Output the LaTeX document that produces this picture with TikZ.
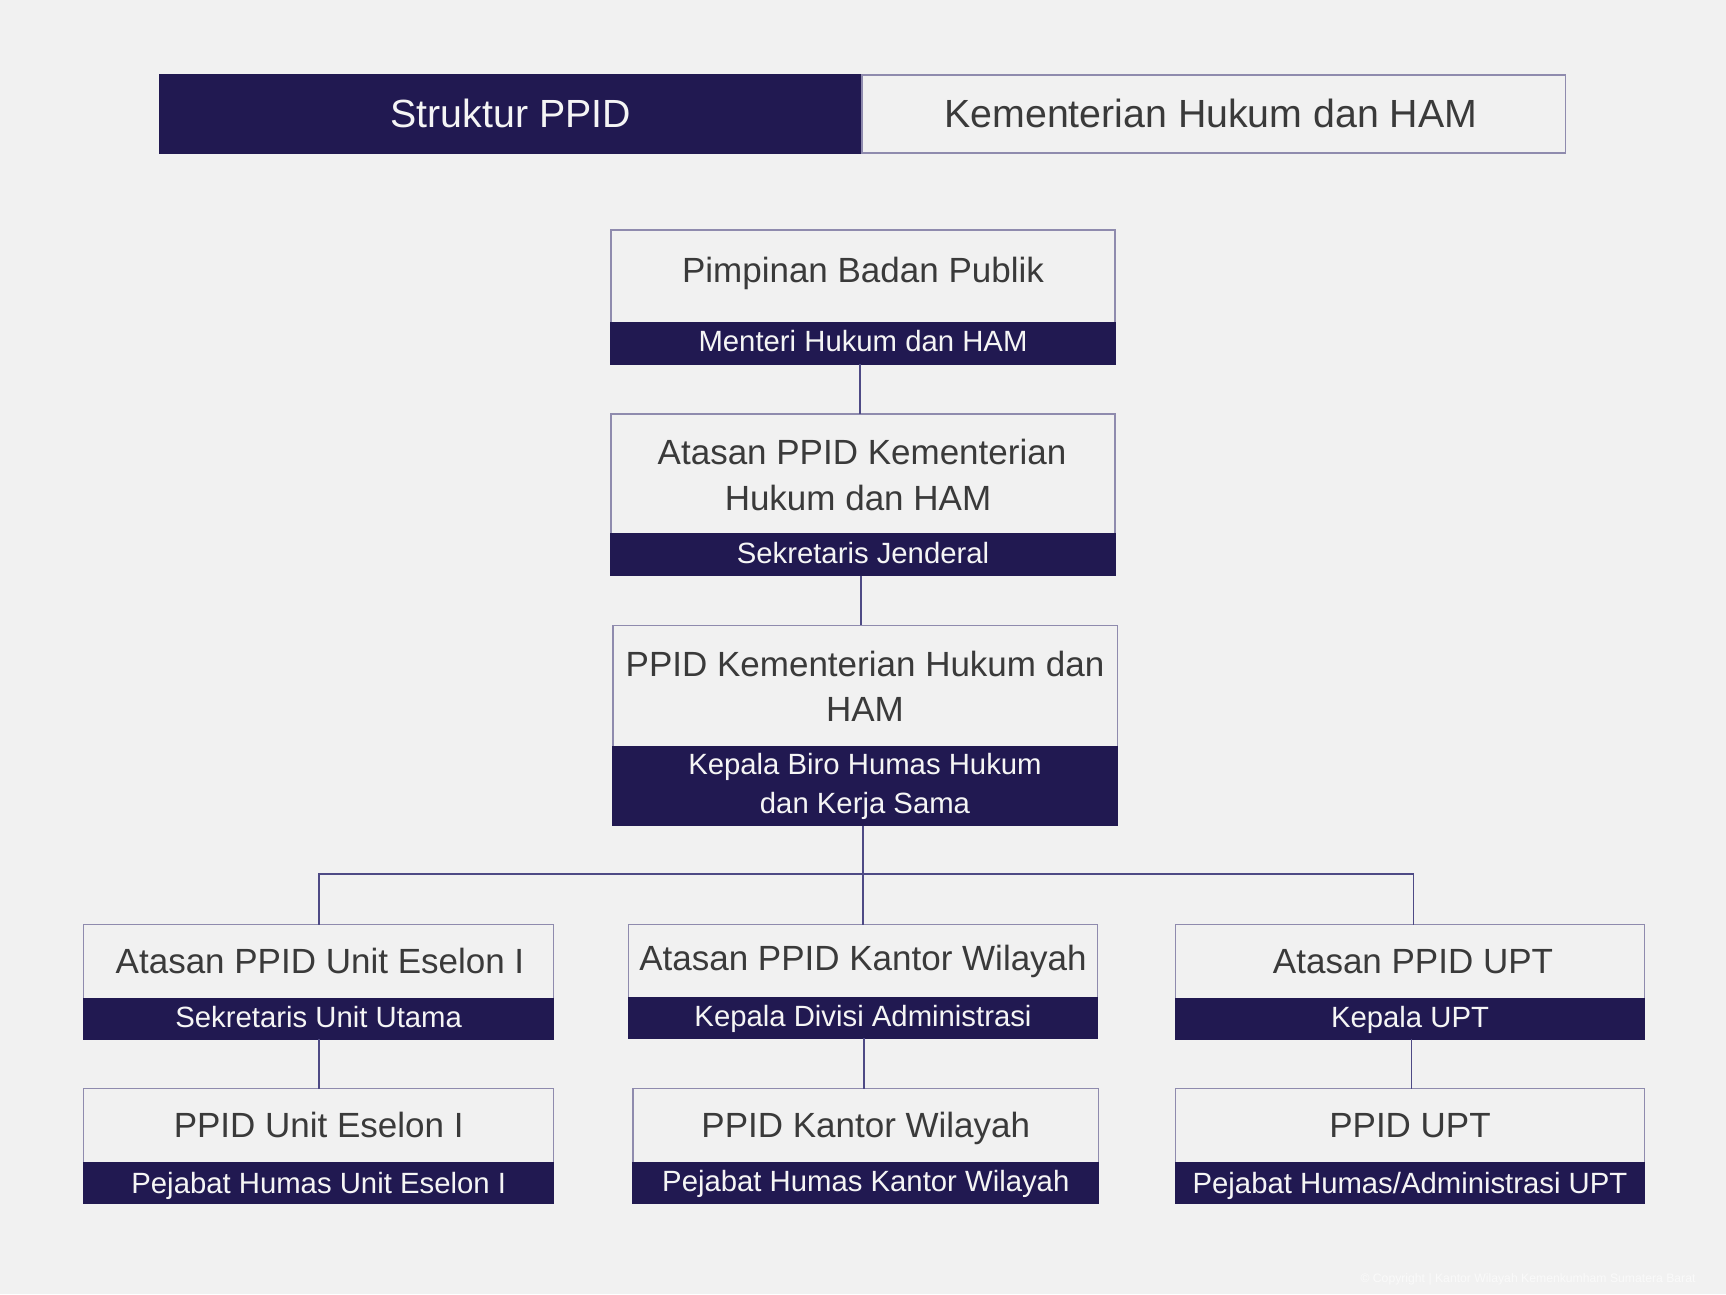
\documentclass[tikz,border=0pt]{standalone}
\usepackage{fontspec}
\setmainfont{Liberation Sans}
\definecolor{navy}{HTML}{211951}
\definecolor{bg}{HTML}{F1F1F1}
\definecolor{edge}{HTML}{8F8BAE}
\definecolor{wirec}{HTML}{4E4A85}
\definecolor{ink}{HTML}{3A3A3A}
\definecolor{paper}{HTML}{F5F5F5}
\definecolor{faint}{HTML}{FAFAFA}
\tikzset{
  frame/.style={draw=edge, line width=1.5pt, fill=bg, inner sep=0pt, outer sep=0pt},
  band/.style={draw=navy, line width=1.5pt, fill=navy, inner sep=0pt, outer sep=0pt},
  maintext/.style={text=ink, font=\fontsize{35}{42}\selectfont, inner sep=0pt, anchor=base},
  subtext/.style={text=paper, font=\fontsize{29.3}{36}\selectfont, inner sep=0pt, anchor=base},
  headtext/.style={font=\fontsize{39.3}{46}\selectfont, inner sep=0pt, anchor=base},
  wire/.style={draw=wirec, line width=1.7pt},
}
\newcommand\orgbox[6]{%
  \node[frame, minimum width={#3-#2}, minimum height={#6-#4}] (#1) at ({(#2+#3)/2},{(#4+#6)/2}) {};
  \node[band, minimum width={#3-#2}, minimum height={#6-#5}] (#1s) at ({(#2+#3)/2},{(#5+#6)/2}) {};
}
\begin{document}
\begin{tikzpicture}[x=1pt,y=-1pt]
\useasboundingbox (0,0) rectangle (1726,1294);
\fill[bg] (0,0) rectangle (1726,1294);

% header
\node[frame, fill=navy, draw=navy, minimum width=702.4, minimum height=78.1] (hl) at (510.8,114) {};
\node[frame, minimum width=703.3, minimum height=78.1] (hr) at (1213.65,114) {};
\node[headtext, text=paper] (hlt) at (510.8,127) {Struktur PPID};
\node[headtext, text=ink] (hrt) at (1210.9,127) {Kementerian Hukum dan HAM};

% boxes
\orgbox{b1}{610.9}{1115.1}{230.1}{322.5}{364.4}
\orgbox{b2}{610.9}{1115.1}{413.9}{533.9}{575.7}
\orgbox{b3}{613.1}{1117.3}{625.3}{746.3}{825.6}
\orgbox{a1}{83.7}{553.7}{924.7}{998.4}{1039.2}
\orgbox{a2}{628.6}{1097.5}{924.7}{997.3}{1038.1}
\orgbox{a3}{1175.7}{1644.6}{924.7}{998.4}{1039.2}
\orgbox{c1}{83.7}{553.7}{1088.7}{1162.4}{1203.2}
\orgbox{c2}{633.0}{1098.6}{1088.7}{1162.4}{1203.2}
\orgbox{c3}{1175.7}{1644.6}{1088.7}{1162.4}{1203.2}

% texts
\node[maintext] (b1t) at (863,282.5) {Pimpinan Badan Publik};
\node[subtext] (b1u) at (863,351.5) {Menteri Hukum dan HAM};
\node[maintext] (b2t1) at (862,464.5) {Atasan PPID Kementerian};
\node[maintext] (b2t2) at (858,510) {Hukum dan HAM};
\node[subtext] (b2u) at (863,563) {Sekretaris Jenderal};
\node[maintext] (b3t1) at (865,676.3) {PPID Kementerian Hukum dan};
\node[maintext] (b3t2) at (865,721.5) {HAM};
\node[subtext] (b3u1) at (865,774.5) {Kepala Biro Humas Hukum};
\node[subtext] (b3u2) at (865,813) {dan Kerja Sama};

\node[maintext] (a1t) at (320,973.5) {Atasan PPID Unit Eselon I};
\node[subtext] (a1u) at (318.7,1027.6) {Sekretaris Unit Utama};
\node[maintext] (a2t) at (863,970) {Atasan PPID Kantor Wilayah};
\node[subtext] (a2u) at (863,1026.5) {Kepala Divisi Administrasi};
\node[maintext] (a3t) at (1413,973.5) {Atasan PPID UPT};
\node[subtext] (a3u) at (1410,1027.6) {Kepala UPT};

\node[maintext] (c1t) at (318.7,1137.5) {PPID Unit Eselon I};
\node[subtext] (c1u) at (318.7,1193.9) {Pejabat Humas Unit Eselon I};
\node[maintext] (c2t) at (865.8,1137.5) {PPID Kantor Wilayah};
\node[subtext] (c2u) at (865.8,1191.7) {Pejabat Humas Kantor Wilayah};
\node[maintext] (c3t) at (1410,1137.5) {PPID UPT};
\node[subtext] (c3u) at (1410,1193.9) {Pejabat Humas/Administrasi UPT};

% connectors
\coordinate (busy) at (0,874);
\draw[wire] ([xshift=-3pt]b1.south) -- ([xshift=-3pt]b1.south |- b2.north);
\draw[wire] ([xshift=-2pt]b2.south) -- ([xshift=-2pt]b2.south |- b3.north);
\draw[wire] ([xshift=-2pt]b3.south) -- ([xshift=-2pt]b3.south |- a2.north);
\draw[wire] (a1.north) -- (a1.north |- busy) -- ([xshift=3.4pt]a3.north |- busy) -- ([xshift=3.4pt]a3.north);
\draw[wire] (a1.south) -- (c1.north);
\draw[wire] ([xshift=1pt]a2.south) -- ([xshift=1pt]a2.south |- c2.north);
\draw[wire] ([xshift=1.2pt]a3.south) -- ([xshift=1.2pt]c3.north);

% watermark
\node[text=faint, font=\fontsize{12.2}{14}\selectfont, inner sep=0pt] (wm) at (1528,1279) {© Copyright | Kantor Wilayah Kemenkumham Sumatera Barat};
\end{tikzpicture}
\end{document}
